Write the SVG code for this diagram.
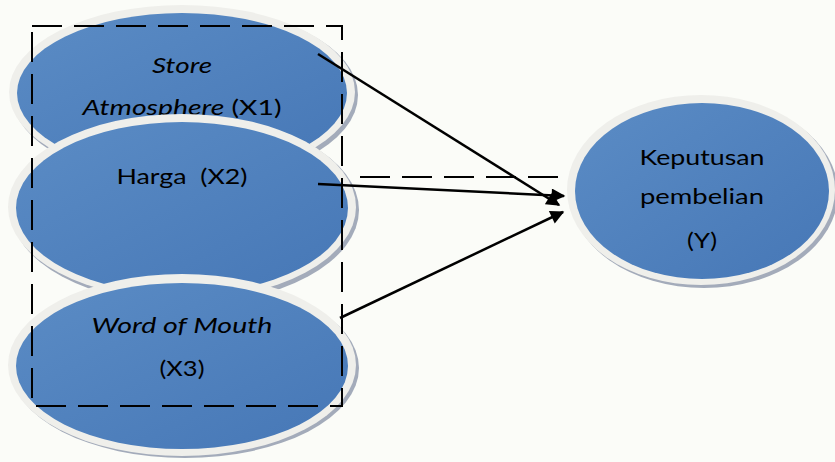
<svg xmlns="http://www.w3.org/2000/svg" width="835" height="462" viewBox="0 0 835 462">
  <defs>
    <linearGradient id="fillG" x1="0" y1="0" x2="1" y2="1">
      <stop offset="0" stop-color="#5b8cc5"/>
      <stop offset="1" stop-color="#4677b6"/>
    </linearGradient>
    <marker id="arr" viewBox="0 0 10 10" refX="9" refY="5" markerWidth="6" markerHeight="5.5" orient="auto" markerUnits="strokeWidth">
      <path d="M0,0 L10,5 L0,10 z" fill="#000"/>
    </marker>
  </defs>
  <style>
    .shadow { fill: #a3abba; }
    .rim { fill: #efefeb; }
    .body { fill: url(#fillG); }
    .lbl { font-family: Lato, "Liberation Sans", sans-serif; font-size: 22px; fill: #000; text-anchor: middle; }
    .it { font-style: italic; }
    .conn { stroke: #000; stroke-width: 2.5; fill: none; }
    .dash { stroke: #000; stroke-width: 2; fill: none; stroke-dasharray: 30 12; }
  </style>
  <rect width="835" height="462" fill="#fbfcf8"/>

  <g id="node-x1">
    <ellipse class="shadow" cx="185" cy="95" rx="173" ry="88"/>
    <ellipse class="rim" cx="182" cy="92" rx="173" ry="87"/>
    <ellipse class="body" cx="182" cy="93" rx="165" ry="80"/>
    <text class="lbl it" x="182" y="73" textLength="60" lengthAdjust="spacingAndGlyphs">Store</text>
    <text class="lbl" x="182" y="115" textLength="199" lengthAdjust="spacingAndGlyphs"><tspan class="it">Atmosphere</tspan> (X1)</text>
  </g>

  <g id="node-x2">
    <ellipse class="shadow" cx="185" cy="210" rx="174" ry="94"/>
    <ellipse class="rim" cx="182" cy="207" rx="174" ry="93"/>
    <ellipse class="body" cx="182" cy="208" rx="166" ry="86"/>
    <text class="lbl" x="182" y="184" textLength="131" lengthAdjust="spacingAndGlyphs" xml:space="preserve">Harga  (X2)</text>
  </g>

  <g id="node-x3">
    <ellipse class="shadow" cx="185" cy="368" rx="174" ry="90"/>
    <ellipse class="rim" cx="182" cy="365" rx="174" ry="91"/>
    <ellipse class="body" cx="182" cy="366" rx="166" ry="83"/>
    <text class="lbl it" x="182" y="333" textLength="181" lengthAdjust="spacingAndGlyphs">Word of Mouth</text>
    <text class="lbl" x="182" y="376" textLength="45" lengthAdjust="spacingAndGlyphs">(X3)</text>
  </g>

  <g id="node-y">
    <ellipse class="shadow" cx="704" cy="193" rx="134" ry="95"/>
    <ellipse class="rim" cx="701" cy="190" rx="134" ry="95"/>
    <ellipse class="body" cx="702" cy="191" rx="127" ry="88"/>
    <text class="lbl" x="702" y="165" textLength="125" lengthAdjust="spacingAndGlyphs">Keputusan</text>
    <text class="lbl" x="702" y="204" textLength="124" lengthAdjust="spacingAndGlyphs">pembelian</text>
    <text class="lbl" x="702" y="248" textLength="30" lengthAdjust="spacingAndGlyphs">(Y)</text>
  </g>

  <g id="connectors">
    <rect class="dash" x="32" y="26" width="310" height="380"/>
    <line class="dash" x1="360" y1="177" x2="565" y2="177"/>
    <line class="conn" x1="318" y1="54" x2="559" y2="205" marker-end="url(#arr)"/>
    <line class="conn" x1="318" y1="184" x2="564" y2="196" marker-end="url(#arr)"/>
    <line class="conn" x1="340" y1="318" x2="563" y2="212" marker-end="url(#arr)"/>
  </g>
</svg>
